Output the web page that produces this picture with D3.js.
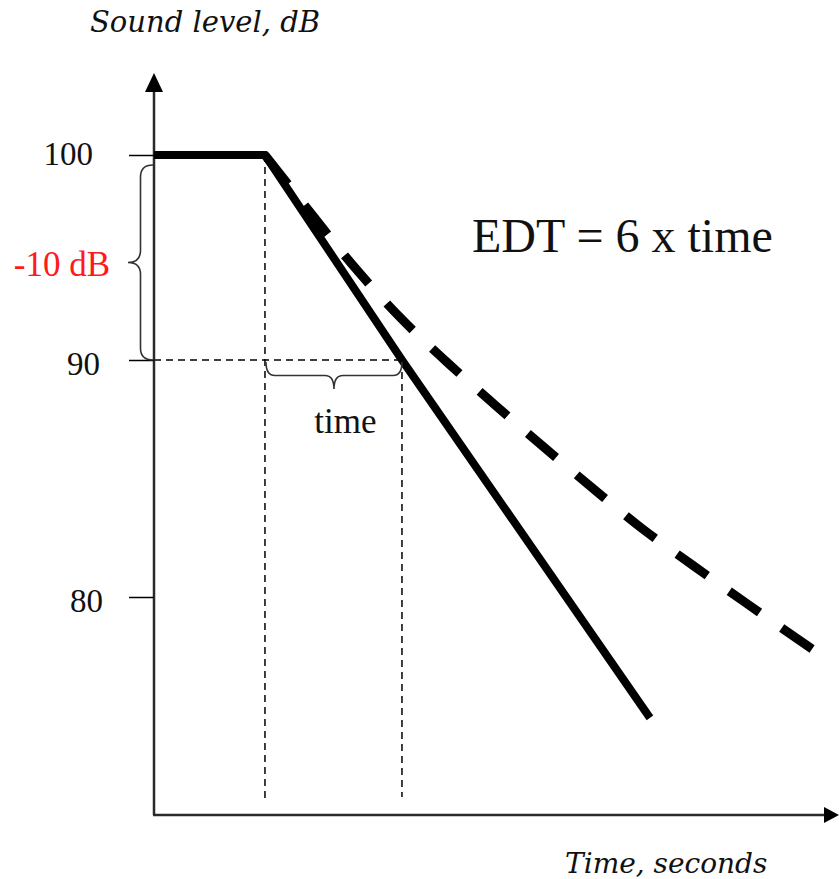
<!DOCTYPE html>
<html>
<head>
<meta charset="utf-8">
<script src="https://cdn.jsdelivr.net/npm/d3@7"></script>
<style>
  body { margin: 0; background: #fff; }
  svg { display: block; }
  .tick text { font-family: "Liberation Serif", "Times New Roman", serif; }
</style>
</head>
<body>
<svg width="839" height="879"></svg>
<script>
// decay curves, time in seconds (arbitrary units) and level in dB
var solidTime  = [0, 0.81, 1.81, 3.62];
var solidLevel = [100, 100, 90, 74.9];

var dashTime  = [0.81, 1.07, 1.48, 1.80, 2.14, 2.49, 3.20, 3.56, 3.93, 4.32, 4.83];
var dashLevel = [100, 97.8, 94.4, 92.05, 89.9, 88.1, 84.6, 82.9, 81.35, 79.75, 77.7];

var yTicks = [100, 90, 80];
var decayStart = 0.81, decayTen = 1.81;   // time from 100 dB to 90 dB

var svg = d3.select("svg"),
  width = +svg.attr("width"),
  height = +svg.attr("height");

var ox = 154, oy = 815, yTop = 73, xRight = 839;

var x = d3.scaleLinear().domain([0, 5]).range([ox, xRight]);
// the drawing is not to scale, so the level axis is piecewise
var y = d3.scaleLinear().domain(yTicks).range([155, 360, 597]);

var line = d3.line()
  .x(function(d) { return x(d[0]); })
  .y(function(d) { return y(d[1]); });

// thin guide lines
var guides = svg.append("g")
  .attr("fill", "none")
  .attr("stroke", "#000")
  .attr("stroke-width", 1.5)
  .attr("stroke-dasharray", "7,5");

guides.append("line")
  .attr("x1", x(decayStart)).attr("x2", x(decayStart))
  .attr("y1", y(100)).attr("y2", oy - 12);
guides.append("line")
  .attr("x1", x(decayTen)).attr("x2", x(decayTen))
  .attr("y1", y(90)).attr("y2", oy - 18);
guides.append("line")
  .attr("x1", ox).attr("x2", x(decayTen))
  .attr("y1", y(90)).attr("y2", y(90));

// axes
var axisColor = "#2a2a2a";
svg.append("line")
  .attr("x1", ox).attr("y1", oy)
  .attr("x2", ox).attr("y2", yTop + 14)
  .attr("stroke", axisColor).attr("stroke-width", 2.5);
svg.append("line")
  .attr("x1", ox - 1).attr("y1", oy)
  .attr("x2", xRight - 12).attr("y2", oy)
  .attr("stroke", axisColor).attr("stroke-width", 2.5);
svg.append("path")
  .attr("d", "M" + ox + "," + yTop + "L" + (ox - 9) + "," + (yTop + 19) + "L" + (ox + 9) + "," + (yTop + 19) + "Z")
  .attr("fill", "#000");
svg.append("path")
  .attr("d", "M" + xRight + "," + oy + "L" + (xRight - 15) + "," + (oy - 8) + "L" + (xRight - 15) + "," + (oy + 8) + "Z")
  .attr("fill", "#000");

var yAxis = svg.append("g")
  .attr("transform", "translate(" + ox + ",0)")
  .call(d3.axisLeft(y).tickValues(yTicks).tickSize(25).tickFormat(d3.format("d")));
yAxis.select(".domain").remove();
yAxis.selectAll(".tick line").attr("stroke", "#000").attr("stroke-width", 1.5);
yAxis.selectAll(".tick text")
  .attr("font-size", 33)
  .attr("fill", "#111")
  .attr("x", function(d) { return d === 100 ? -61 : d === 90 ? -54 : -51; })
  .attr("dy", function(d) { return d === 100 ? "0.3em" : "0.45em"; });

// curves
svg.append("path")
  .datum(d3.zip(dashTime, dashLevel))
  .attr("fill", "none")
  .attr("stroke", "#000")
  .attr("stroke-width", 9)
  .attr("stroke-dasharray", "37,27")
  .attr("d", line.curve(d3.curveMonotoneX));

svg.append("path")
  .datum(d3.zip(solidTime, solidLevel))
  .attr("fill", "none")
  .attr("stroke", "#000")
  .attr("stroke-width", 8)
  .attr("stroke-linejoin", "miter")
  .attr("d", line.curve(d3.curveLinear));

// curly braces
function vBrace(x0, y1, y2, w) {
  var xm = x0 - w / 2, ym = (y1 + y2) / 2, r = 12;
  return "M" + x0 + "," + y1 +
    "Q" + xm + "," + y1 + " " + xm + "," + (y1 + r) +
    "L" + xm + "," + (ym - r) +
    "Q" + xm + "," + ym + " " + (x0 - w) + "," + ym +
    "Q" + xm + "," + ym + " " + xm + "," + (ym + r) +
    "L" + xm + "," + (y2 - r) +
    "Q" + xm + "," + y2 + " " + x0 + "," + y2;
}
function hBrace(x1, x2, y0, h) {
  var ymid = y0 + h / 2, xm = (x1 + x2) / 2, r = 9;
  return "M" + x1 + "," + y0 +
    "Q" + x1 + "," + ymid + " " + (x1 + r) + "," + ymid +
    "L" + (xm - r) + "," + ymid +
    "Q" + xm + "," + ymid + " " + xm + "," + (y0 + h) +
    "Q" + xm + "," + ymid + " " + (xm + r) + "," + ymid +
    "L" + (x2 - r) + "," + ymid +
    "Q" + x2 + "," + ymid + " " + x2 + "," + y0;
}

svg.append("path")
  .attr("d", vBrace(ox - 1, y(100) + 10, y(90), 25))
  .attr("fill", "none").attr("stroke", "#333").attr("stroke-width", 1.6);
svg.append("path")
  .attr("d", hBrace(x(decayStart) + 1, x(decayTen), y(90) + 2, 27))
  .attr("fill", "none").attr("stroke", "#333").attr("stroke-width", 1.6);

// labels
svg.append("text")
  .attr("x", 110).attr("y", 276)
  .attr("text-anchor", "end")
  .attr("font-family", "Liberation Serif, serif")
  .attr("font-size", 35)
  .attr("fill", "#ff1a1a")
  .text("-10 dB");

svg.append("text")
  .attr("x", (x(decayStart) + x(decayTen)) / 2 + 12).attr("y", 433)
  .attr("text-anchor", "middle")
  .attr("font-family", "Liberation Serif, serif")
  .attr("font-size", 35)
  .attr("fill", "#111")
  .text("time");

svg.append("text")
  .attr("x", 472).attr("y", 252)
  .attr("font-family", "Liberation Serif, serif")
  .attr("font-size", 48)
  .attr("fill", "#111")
  .text("EDT = 6 x time");

svg.append("text")
  .attr("x", 90).attr("y", 32)
  .attr("font-family", "DejaVu Serif, serif")
  .attr("font-style", "italic")
  .attr("font-size", 29)
  .attr("fill", "#111")
  .text("Sound level, dB");

svg.append("text")
  .attr("x", 565).attr("y", 873)
  .attr("font-family", "DejaVu Serif, serif")
  .attr("font-style", "italic")
  .attr("font-size", 28)
  .attr("fill", "#111")
  .text("Time, seconds");
</script>
</body>
</html>
